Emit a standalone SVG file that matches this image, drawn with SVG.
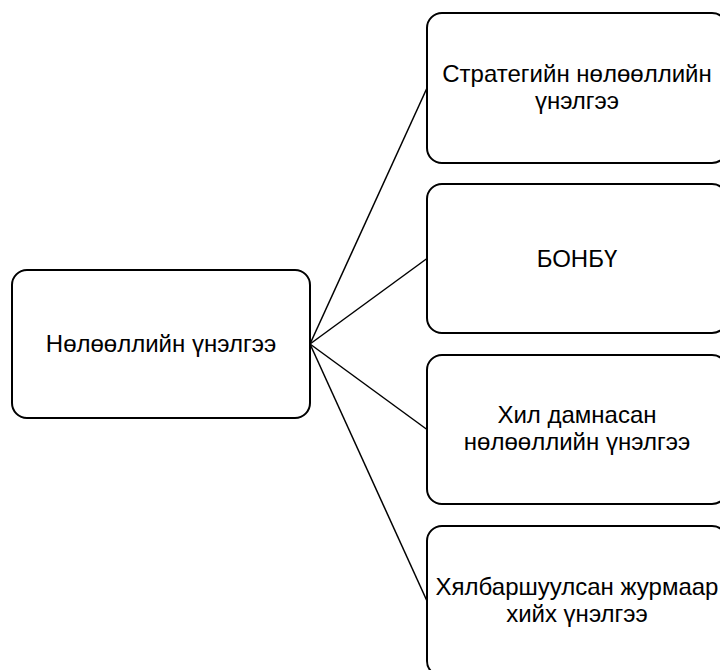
<svg xmlns="http://www.w3.org/2000/svg" width="720" height="670" viewBox="0 0 720 670">
<style>
.box{fill:#fff;stroke:#000;stroke-width:2}
.lbl{font-family:"Liberation Sans",Arial,sans-serif;font-size:24px;fill:#000;text-anchor:middle}
.edge{stroke:#000;stroke-width:1.5;fill:none}
</style>
<rect width="720" height="670" fill="#fff"/>
<g id="connectors">
<line class="edge" x1="310" y1="344" x2="427" y2="88"/>
<line class="edge" x1="310" y1="344" x2="427" y2="258.5"/>
<line class="edge" x1="310" y1="344" x2="427" y2="429.5"/>
<line class="edge" x1="310" y1="344" x2="427" y2="601"/>
</g>
<g id="root">
<rect class="box" x="12" y="270" width="298" height="148" rx="15"/>
<text class="lbl" x="161" y="352">Нөлөөллийн үнэлгээ</text>
</g>
<g id="n1">
<rect class="box" x="427" y="13" width="300" height="150" rx="15"/>
<text class="lbl" x="577" y="81.5">Стратегийн нөлөөллийн</text>
<text class="lbl" x="577" y="108.5">үнэлгээ</text>
</g>
<g id="n2">
<rect class="box" x="427" y="184" width="300" height="149" rx="15"/>
<text class="lbl" x="577" y="267">БОНБҮ</text>
</g>
<g id="n3">
<rect class="box" x="427" y="355" width="300" height="149" rx="15"/>
<text class="lbl" x="577" y="423">Хил дамнасан</text>
<text class="lbl" x="577" y="450">нөлөөллийн үнэлгээ</text>
</g>
<g id="n4">
<rect class="box" x="427" y="526" width="300" height="150" rx="15"/>
<text class="lbl" x="577" y="594.5">Хялбаршуулсан журмаар</text>
<text class="lbl" x="577" y="621.5">хийх үнэлгээ</text>
</g>
</svg>
